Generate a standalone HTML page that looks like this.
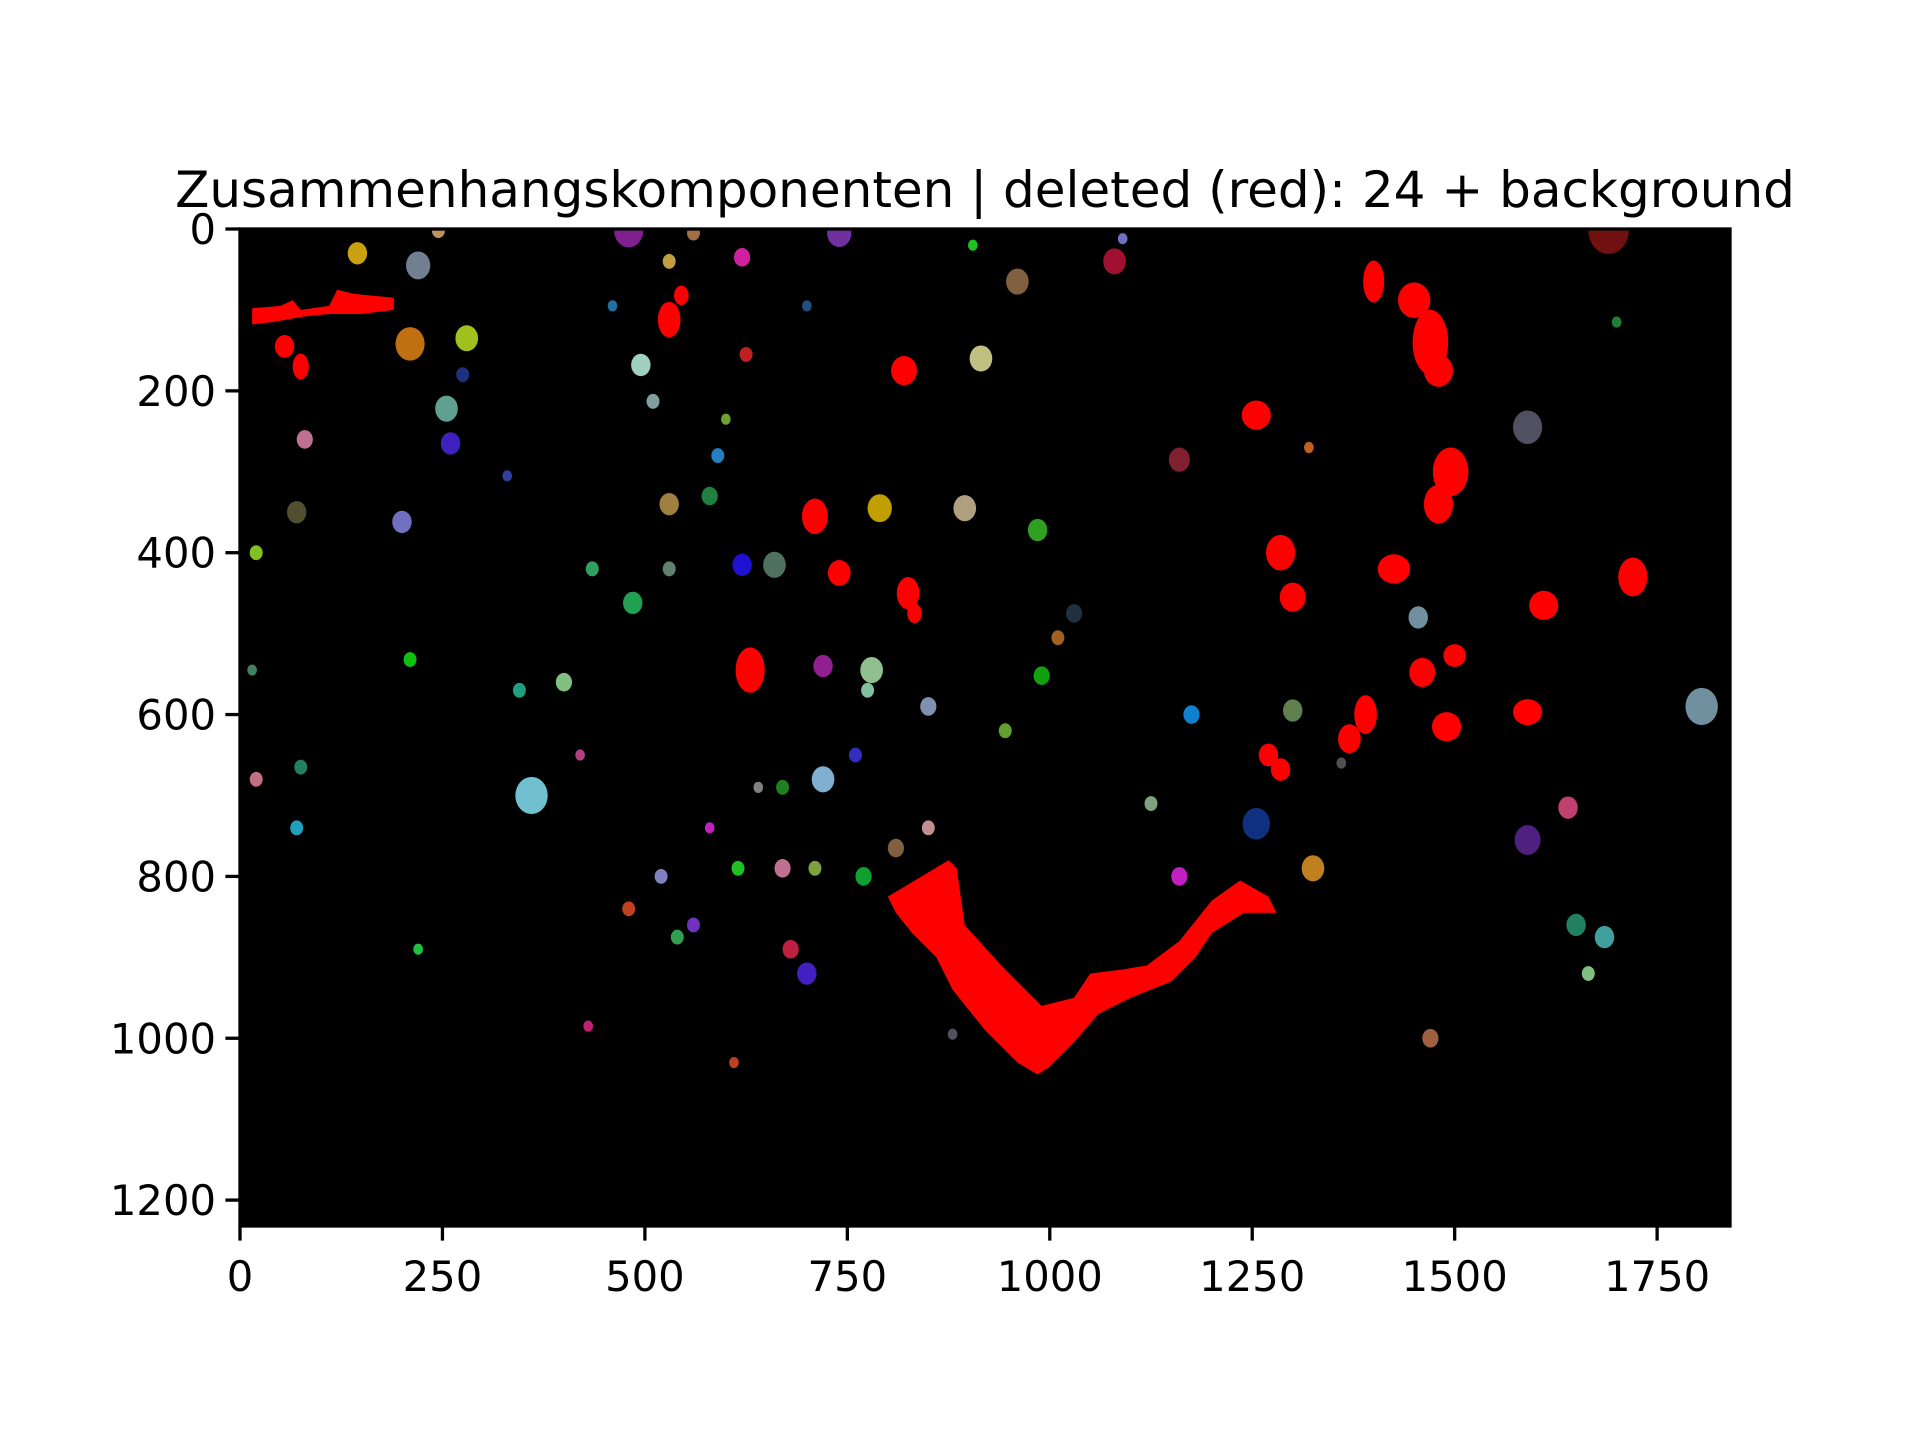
<!DOCTYPE html>
<html><head><meta charset="utf-8"><style>
html,body{margin:0;padding:0;background:#fff;}
svg{display:block;font-family:"DejaVu Sans","Liberation Sans",sans-serif;}
</style></head><body>
<svg id="chart" width="1920" height="1440" viewBox="0 0 1920 1440" xmlns="http://www.w3.org/2000/svg">
<defs><clipPath id="axclip"><rect x="240" y="229" width="1490" height="997"/></clipPath></defs>
<rect width="1920" height="1440" fill="#fff"/>
<text x="985" y="207" font-size="50" text-anchor="middle" fill="#000">Zusammenhangskomponenten | deleted (red): 24 + background</text>
<g id="axes"></g>
</svg>
<script>
const xTicks = [0,250,500,750,1000,1250,1500,1750];
const yTicks = [0,200,400,600,800,1000,1200];
const imgW = 1840, imgH = 1232;
// red (deleted) blobs: x, y, rx, ry
const redX  = [55,75,530,545,820,710,740,825,833,630,1400,1450,1470,1480,1255,1495,1480,1285,1300,1425,1610,1720,1460,1500,1490,1590,1390,1370,1270,1285];
const redY  = [145,170,112,82,175,355,425,450,475,545,65,88,140,175,230,300,340,400,455,420,465,430,548,527,615,597,600,630,650,668];
const redRX = [12,10,14,9,16,16,14,14,9,18,13,20,22,18,18,22,18,18,16,20,18,18,16,14,18,18,14,14,12,12];
const redRY = [14,16,22,12,18,22,16,20,12,28,26,22,40,20,18,30,24,22,18,18,18,24,18,14,18,16,24,18,14,14];
// colored (kept) components
const cX = [145,220,245,480,530,560,620,740,960,1080,1690,210,280,275,255,260,80,70,200,20,495,510,530,590,580,620,660,720,780,790,895,915,985,990,1030,1160,1590,1805,1455,485,435,530,345,400,360,420,640,670,720,760,775,850,810,850,770,710,670,680,700,1175,1300,1255,1125,1160,1325,1590,1640,1650,1685,1665,1470,615,480,520,540,560,580,610,430,220,70,75,20,210,15,625,700,905,1090,1320,1360,1010,945,880,330,460,600,1700];
const cY = [30,45,2,2,40,5,35,5,65,40,2,142,135,180,222,265,260,350,362,400,168,213,340,280,330,415,415,540,545,345,345,160,372,552,475,285,245,590,480,462,420,420,570,560,700,650,690,690,680,650,570,590,765,740,800,790,790,890,920,600,595,735,710,800,790,755,715,860,875,920,1000,790,840,800,875,860,740,1030,985,890,740,665,680,532,545,155,95,20,12,270,660,505,620,995,305,95,235,115];
const cR = [12,15,8,18,8,8,10,15,14,14,25,18,14,8,14,12,10,12,12,8,12,8,12,8,10,12,14,12,14,15,14,14,12,10,10,13,18,20,12,12,8,8,8,10,20,6,6,8,14,8,8,10,10,8,10,8,10,10,12,10,12,17,8,10,14,16,12,12,12,8,10,8,8,8,8,8,6,6,6,6,8,8,8,8,6,8,6,6,6,6,6,8,8,6,6,6,6,6];
const cCol = ["#c8a010","#708090","#c09060","#802090","#c0a040","#a07040","#d020a0","#7030a0","#806040","#a01030","#701010","#c07010","#a0c020","#203080","#60a090","#4020c0","#c07090","#505030","#7070c0","#80c020","#a0d0c0","#80a0a0","#a08040","#2080c0","#208040","#2010d0","#507060","#902090","#90c090","#c0a000","#b0a080","#c0c080","#30a020","#10a010","#203040","#802030","#505060","#7090a0","#7090a0","#20a050","#30a060","#608070","#20a080","#80c080","#70c0d0","#b04080","#808080","#208020","#80b0d0","#3030c0","#80c0a0","#8090b0","#806040","#c09090","#10a030","#80a040","#c07090","#c02040","#4020c0","#1080d0","#608050","#103080","#80a080","#c020c0","#c08020","#502080","#c04070","#208060","#40a0a0","#80c080","#a06040","#20c020","#c04020","#8080c0","#30a050","#7030c0","#c020c0","#c04020","#c02070","#20c040","#20a0c0","#208060","#c07080","#10c010","#408060","#c02020","#205080","#20c020","#7070c0","#c06020","#505050","#a06020","#60a030","#505060","#3040a0","#2070a0","#70a030","#208030"];
// polygon outlines of the two large deleted regions (data coords)
const vShapeX = [800,875,885,895,940,990,1030,1050,1090,1120,1160,1200,1235,1270,1280,1240,1200,1180,1150,1100,1060,1030,1000,985,960,920,880,860,830,810];
const vShapeY = [825,780,790,860,910,960,950,920,915,910,880,830,805,825,845,845,870,900,930,950,970,1005,1035,1045,1030,990,940,900,870,845];
const streakX = [15,50,65,75,110,120,140,190,190,150,110,80,40,15];
const streakY = [98,95,88,100,95,75,80,85,100,105,105,108,115,118];

const NS = "http://www.w3.org/2000/svg";
const axL = 240, axT = 229, axW = 1490, axH = 997;
const sx = v => axL + v * axW / imgW;
const sy = v => axT + v * axH / imgH;
const axes = document.getElementById('axes');
function mk(tag, attrs, parent){const e=document.createElementNS(NS,tag);for(const k in attrs)e.setAttribute(k,attrs[k]);(parent||axes).appendChild(e);return e;}

const bg = mk('rect',{x:axL,y:axT,width:axW,height:axH,fill:'#000'});


const img = mk('g',{'clip-path':'url(#axclip)'});



for(let i=0;i<cX.length;i++){
  const e = mk('ellipse',{cx:sx(cX[i]),cy:sy(cY[i]),rx:cR[i]*axW/imgW,ry:cR[i]*1.15*axW/imgW,fill:cCol[i]},img);
  
  
}
for(let i=0;i<redX.length;i++){
  const e = mk('ellipse',{cx:sx(redX[i]),cy:sy(redY[i]),rx:redRX[i]*axW/imgW,ry:redRY[i]*axW/imgW,fill:'#ff0000'},img);
  
  
}
const vp = mk('polygon',{points:vShapeX.map((x,i)=>sx(x)+','+sy(vShapeY[i])).join(' '),fill:'#ff0000'},img);


const sp = mk('polygon',{points:streakX.map((x,i)=>sx(x)+','+sy(streakY[i])).join(' '),fill:'#ff0000'},img);



for(const t of xTicks){
  const l = mk('line',{x1:sx(t),x2:sx(t),y1:axT+axH,y2:axT+axH+14.6,stroke:'#000','stroke-width':3.3});
  
  
  const tx = mk('text',{x:sx(t),y:axT+axH+65,'font-size':41.7,'text-anchor':'middle',fill:'#000'});
  tx.textContent = t;
  
  
}
for(const t of yTicks){
  const l = mk('line',{x1:axL-14.6,x2:axL,y1:sy(t),y2:sy(t),stroke:'#000','stroke-width':3.3});
  
  
  const tx = mk('text',{x:axL-24,y:sy(t)+15,'font-size':41.7,'text-anchor':'end',fill:'#000'});
  tx.textContent = t;
  
  
}
const fr = mk('rect',{x:axL,y:axT,width:axW,height:axH,fill:'none',stroke:'#000','stroke-width':3.3});


</script>
</body></html>
